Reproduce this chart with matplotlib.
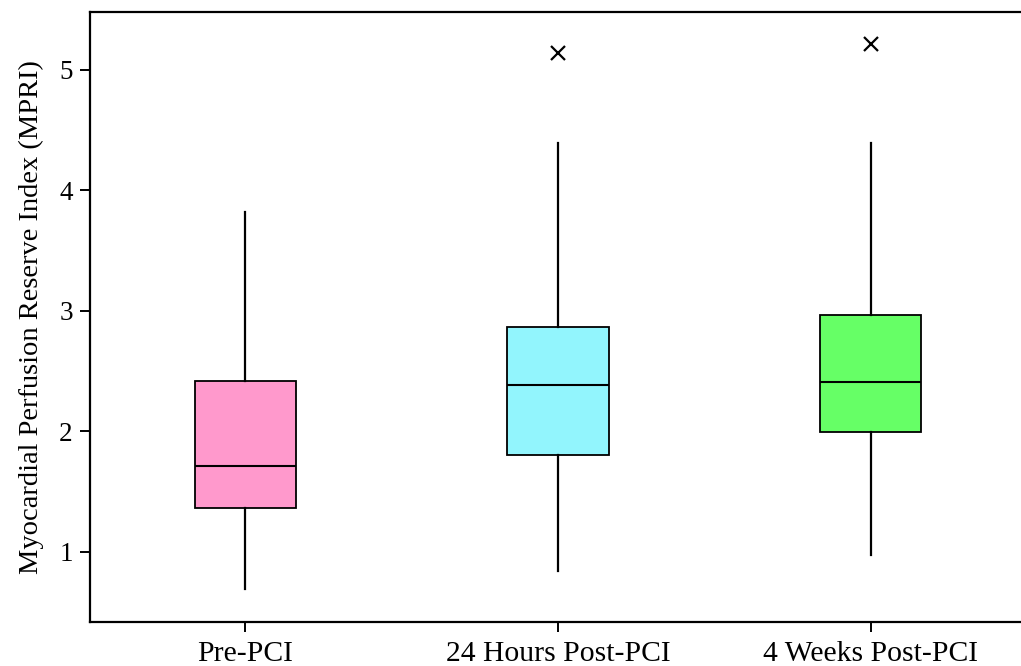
import matplotlib
matplotlib.use("Agg")
import matplotlib.pyplot as plt

categories = ["Pre-PCI", "24 Hours Post-PCI", "4 Weeks Post-PCI"]
whislo = [0.69, 0.84, 0.975]
q1 = [1.365, 1.805, 1.996]
med = [1.714, 2.386, 2.41]
q3 = [2.42, 2.867, 2.967]
whishi = [3.82, 4.39, 4.39]
outliers = [[], [5.14], [5.216]]
colors = ["#FF99CC", "#92F5FD", "#66FF66"]

plt.rcParams['font.family'] = ['Liberation Serif', 'DejaVu Serif']

fig = plt.figure(figsize=(10.21, 6.66), dpi=100)
ax = fig.add_axes([90/1021, 1-622/666, 1-90/1021+0.002, (622-12)/666])

stats = []
for i, c in enumerate(categories):
    stats.append(dict(label=c, whislo=whislo[i], q1=q1[i], med=med[i], q3=q3[i],
                      whishi=whishi[i], fliers=outliers[i]))

bp = ax.bxp(stats, positions=[1, 2, 3], widths=0.324, patch_artist=True,
            showcaps=False,
            boxprops=dict(linewidth=1.3, edgecolor='black'),
            medianprops=dict(color='black', linewidth=1.5),
            whiskerprops=dict(color='black', linewidth=1.6),
            flierprops=dict(marker='x', markeredgecolor='black', markersize=9.5,
                            markeredgewidth=1.6, linestyle='none'))
for patch, col in zip(bp['boxes'], colors):
    patch.set_facecolor(col)

ax.set_xlim(1 - 155/312, 1 + (1021 - 245)/312)
ax.set_ylim(0.419, 5.48)
ax.set_yticks([1, 2, 3, 4, 5])
ax.set_ylabel("Myocardial Perfusion Reserve Index (MPRI)", fontsize=20.5, labelpad=11)
ax.spines['right'].set_visible(False)
for s in ['left', 'bottom', 'top']:
    ax.spines[s].set_linewidth(1.6)
ax.tick_params(axis='y', labelsize=19.5, length=7.5, width=1.4, direction='out', pad=5)
ax.tick_params(axis='x', labelsize=21.3, length=7.5, width=1.4, direction='out', pad=6)

fig.savefig("out.png", dpi=100)
